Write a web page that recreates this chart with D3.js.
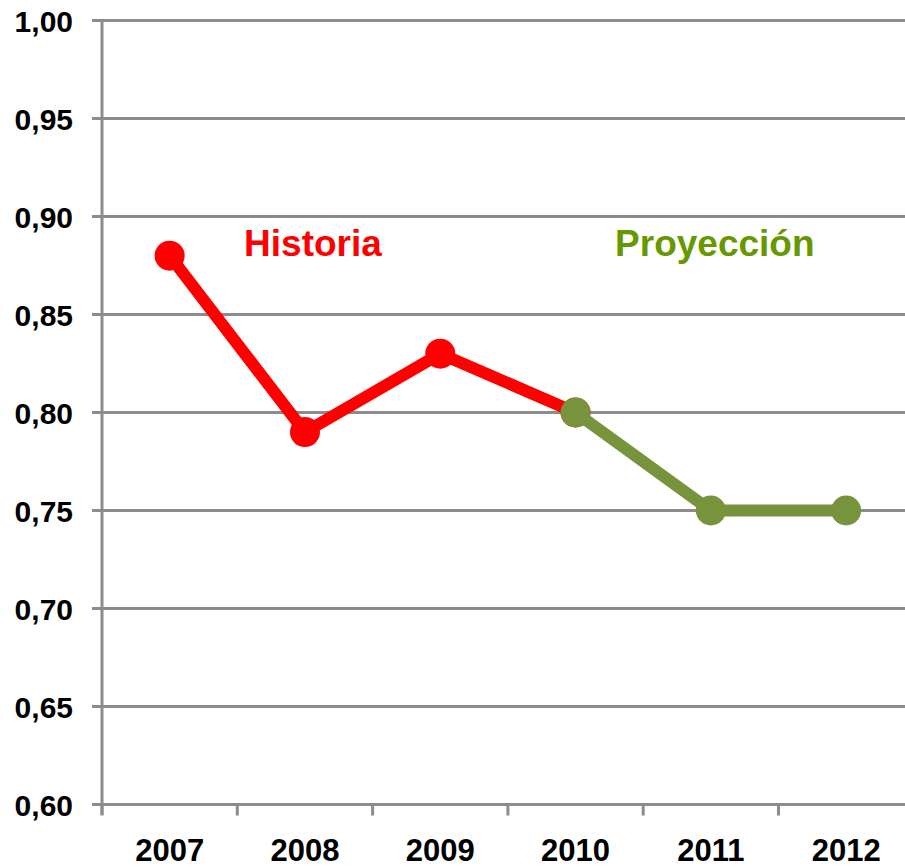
<!DOCTYPE html>
<html><head><meta charset="utf-8">
<script src="https://cdn.jsdelivr.net/npm/d3@7"></script>
<style>body{margin:0;background:#fff}svg{display:block}</style>
</head><body>
<svg id="c" width="905" height="867"></svg>
<script>
const years = ["2007","2008","2009","2010","2011","2012"];
const historia = [{year:"2007",v:0.88},{year:"2008",v:0.79},{year:"2009",v:0.83},{year:"2010",v:0.80}];
const proyeccion = [{year:"2010",v:0.80},{year:"2011",v:0.75},{year:"2012",v:0.75}];
const yTicks = [0.60,0.65,0.70,0.75,0.80,0.85,0.90,0.95,1.00];
const labels = [{text:"Historia",year:"2008",color:"#ff0000"},{text:"Proyección",year:"2011",color:"#669900"}];

(function(){
const svg = d3.select("#c");
const mLeft = 102, mTop = 20.5, mBottom = 804.5, step = 135.3;
const x = d3.scaleBand().domain(years).range([mLeft, mLeft + step*years.length]).padding(0);
const y = d3.scaleLinear().domain([0.60,1.00]).range([mBottom, mTop]);
const grid = "#8c8c8c";
const font = "'Liberation Sans', Arial, sans-serif";
const labelShift = {"Historia": 8, "Proyección": 4};

svg.append("g").selectAll("line").data(yTicks).join("line")
  .attr("x1", mLeft-10).attr("x2", 905)
  .attr("y1", d=>y(d)).attr("y2", d=>y(d))
  .attr("stroke", grid).attr("stroke-width", 3);

svg.append("line").attr("x1",mLeft).attr("x2",mLeft).attr("y1",mTop-1).attr("y2",mBottom+10)
  .attr("stroke",grid).attr("stroke-width",3);

const bounds = years.map(d=>x(d)).concat([x(years[years.length-1])+x.bandwidth()]);
svg.append("g").selectAll("line").data(bounds.filter(b=>b<905)).join("line")
  .attr("x1",d=>d).attr("x2",d=>d).attr("y1",mBottom).attr("y2",mBottom+11)
  .attr("stroke",grid).attr("stroke-width",3);

svg.append("g").selectAll("text").data(yTicks).join("text")
  .attr("x", 73).attr("y", d=>y(d)+11)
  .attr("text-anchor","end").attr("font-family",font).attr("font-weight","bold")
  .attr("font-size",30).attr("fill","#000")
  .text(d=>d.toFixed(2).replace(".",","));

svg.append("g").selectAll("text").data(years).join("text")
  .attr("x", d=>x(d)+x.bandwidth()/2).attr("y", 861)
  .attr("text-anchor","middle").attr("font-family",font).attr("font-weight","bold")
  .attr("font-size",31).attr("fill","#000")
  .text(d=>d);

const line = d3.line().x(d=>x(d.year)+x.bandwidth()/2).y(d=>y(d.v));

function series(data, color){
  svg.append("path").datum(data).attr("d",line).attr("fill","none")
    .attr("stroke",color).attr("stroke-width",12).attr("stroke-linejoin","round");
  svg.append("g").selectAll("circle").data(data).join("circle")
    .attr("cx",d=>x(d.year)+x.bandwidth()/2).attr("cy",d=>y(d.v)).attr("r",15)
    .attr("fill",color);
}
series(historia, "#ff0000");
series(proyeccion, "#77933c");

svg.append("g").selectAll("text").data(labels).join("text")
  .attr("x", d=>x(d.year)+x.bandwidth()*0.5+labelShift[d.text])
  .attr("y", 256)
  .attr("text-anchor","middle").attr("font-family",font).attr("font-weight","bold")
  .attr("font-size",37).attr("fill",d=>d.color)
  .text(d=>d.text);
})();
</script>
</body></html>
